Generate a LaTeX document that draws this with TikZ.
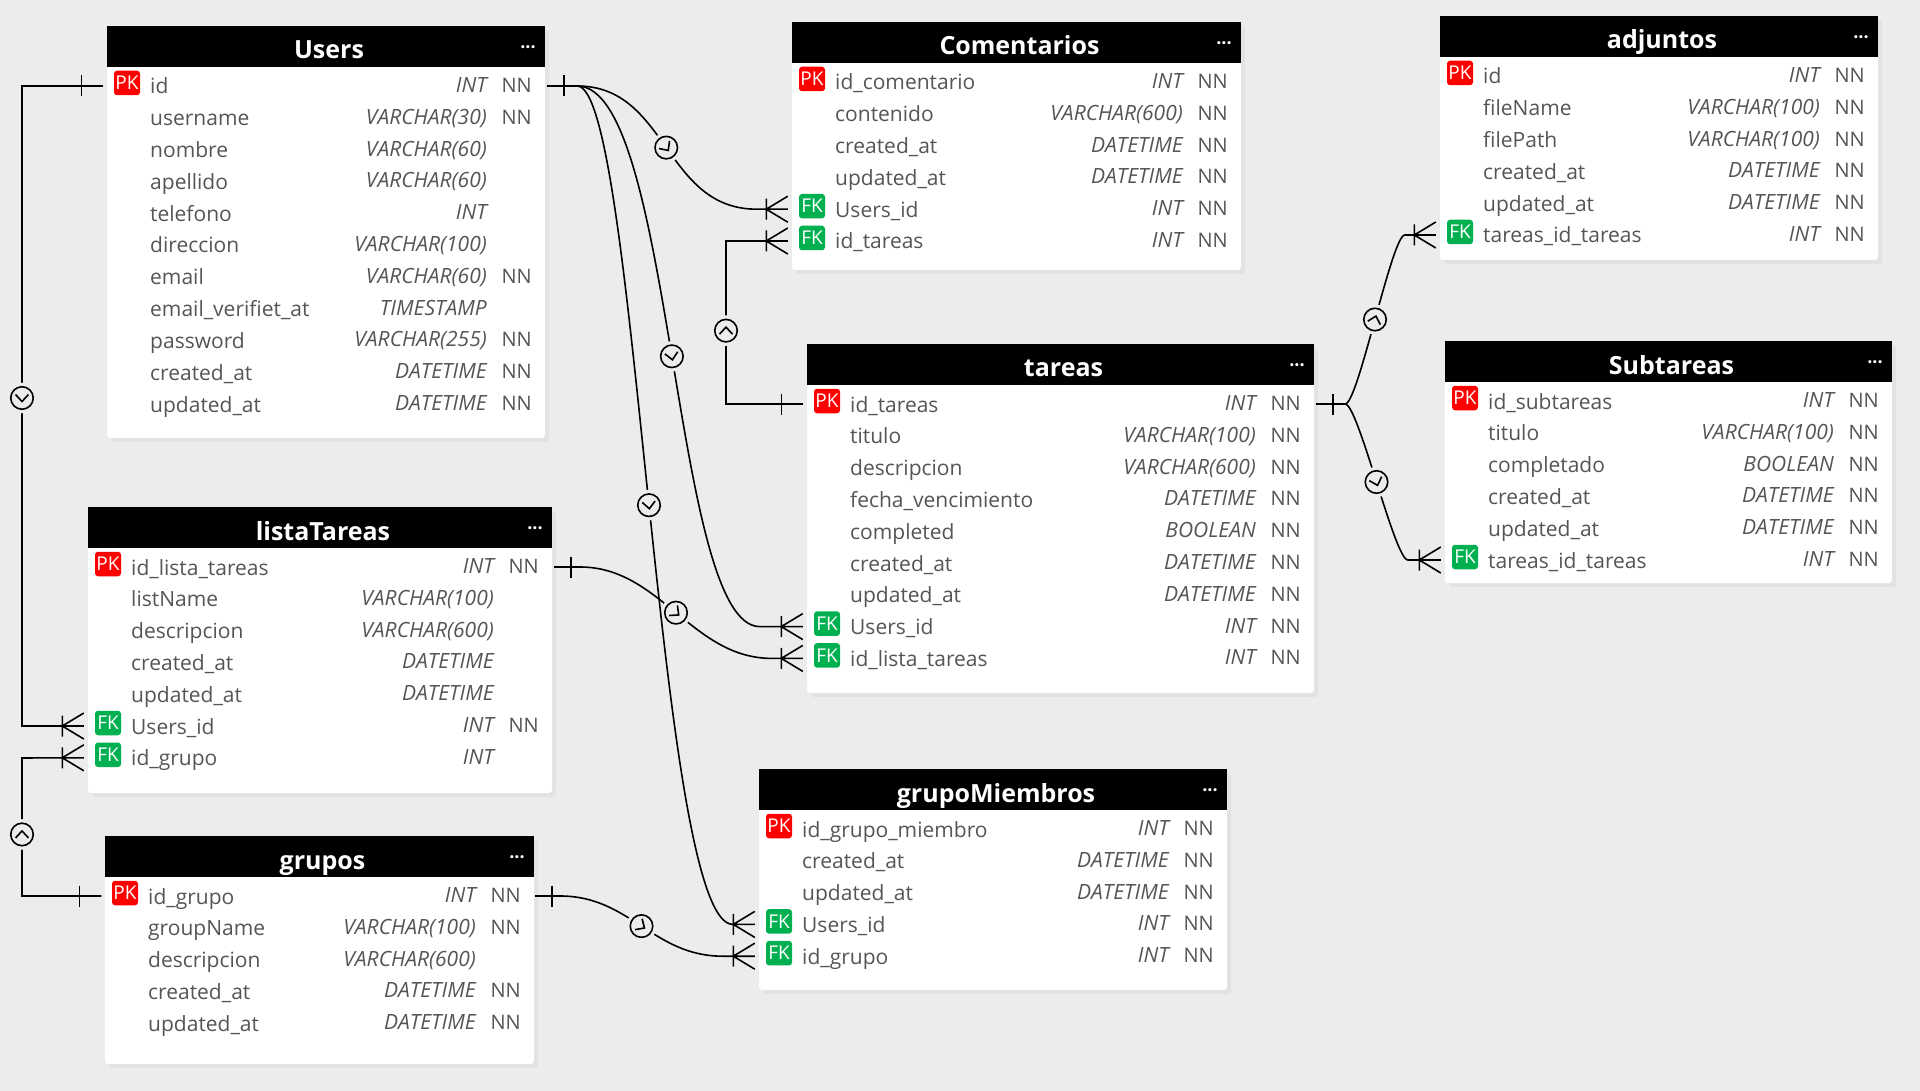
\documentclass[tikz,border=0pt]{standalone}
\usepackage{fontspec}
\setmainfont{Open Sans}
\usepackage{xcolor}
\usetikzlibrary{arrows.meta,positioning,calc,shadows}
\definecolor{pagebg}{HTML}{ECECEC}
\definecolor{pkred}{HTML}{FF0000}
\definecolor{fkgreen}{HTML}{00B050}
\definecolor{coltext}{HTML}{555555}
\tikzset{
  tablebody/.style={fill=white, rounded corners=3pt, inner sep=0pt, drop shadow={shadow xshift=4pt, shadow yshift=-4pt, fill=black, opacity=.04}},
  tablehead/.style={fill=black, inner sep=0pt, minimum height=41pt},
  tabletitle/.style={anchor=base, text=white, font=\fontsize{25}{25}\selectfont\bfseries, inner sep=0pt},
  tabledots/.style={text=white, font=\fontsize{18}{18}\selectfont\bfseries, inner sep=0pt},
  rowbox/.style={inner sep=0pt, minimum height=31.8pt},
  namecol/.style={anchor=base west, text=coltext, font=\fontsize{21}{21}\selectfont, inner sep=0pt},
  typecol/.style={anchor=base east, text=coltext, font=\fontsize{21}{21}\selectfont\itshape, inner sep=0pt},
  nullcol/.style={anchor=base east, text=coltext, font=\fontsize{20}{20}\selectfont, inner sep=0pt},
  keybadge/.style={text=white, rounded corners=3pt, inner sep=0pt, minimum width=26pt, minimum height=24.5pt, font=\fontsize{19}{19}\selectfont},
  keyPK/.style={keybadge, fill=pkred},
  keyFK/.style={keybadge, fill=fkgreen},
  relline/.style={draw=black, line width=1.6pt},
  relcircle/.style={circle, draw=black, line width=1.6pt, fill=pagebg, minimum size=22.5pt, inner sep=0pt, preaction={draw=pagebg, line width=8pt}},
  onebar/.pic={\draw[relline] (0,-10.5) -- (0,10.5);},
  crowfoot/.pic={\draw[relline] (0,-10.5) -- (0,10.5) (21.5,-13) -- (0,0) -- (21.5,13) (0,0) -- (21.5,0);},
  relmark/.pic={\node[relcircle] (-c) {}; \draw[relline] (-3.5,-6.5) -- (3.5,0) -- (-3.5,6.5);},
  midmark/.style={pos=#1, sloped, allow upside down},
  midmark/.default=0.5,
}
\def\nokey{-}
% id, title, left, top, right, bottom, rows
\newcommand{\erdtable}[7]{
  \pgfmathsetmacro{\tabw}{#5-#3}
  \pgfmathsetmacro{\tabh}{#6-#4}
  \pgfmathsetmacro{\tabx}{(#3+#5)/2}
  \pgfmathsetmacro{\taby}{(#4+#6)/2}
  \node[tablebody, minimum width=\tabw pt, minimum height=\tabh pt] (#1) at (\tabx,\taby) {};
  \node[tablehead, minimum width=\tabw pt] (#1-head) at (\tabx,#4+20.5) {};
  \node[tabletitle] (#1-title) at (\tabx+3,#4+33) {#2};
  \node[tabledots] (#1-dots) at (#5-17,#4+24) {···};
  \foreach \colkey/\colname/\coltype/\colnull [count=\i] in {#7} {
    \pgfmathsetmacro{\rowy}{#4+60+31.8*(\i-1)}
    \node[rowbox, minimum width=\tabw pt] (#1-\i) at (\tabx,\rowy) {};
    \ifx\colkey\nokey\else
      \node[key\colkey] (#1-\i-key) at (#3+20,\rowy-3) {\colkey};
    \fi
    \node[namecol] (#1-\i-name) at (#3+43,\rowy+8) {\colname};
    \node[typecol] (#1-\i-type) at (#5-58,\rowy+6.5) {\coltype};
    \ifx\colnull\nokey\else
      \node[nullcol] (#1-\i-null) at (#5-13,\rowy+6.5) {\colnull};
    \fi
  }
}

\begin{document}
\begin{tikzpicture}[x=1pt, y=-1pt]
  \path[use as bounding box, fill=pagebg] (0,0) rectangle (1920,1091);

  \erdtable{users}{Users}{107}{26}{545}{438}{
    PK/id/INT/NN,
    -/username/VARCHAR(30)/NN,
    -/nombre/VARCHAR(60)/-,
    -/apellido/VARCHAR(60)/-,
    -/telefono/INT/-,
    -/direccion/VARCHAR(100)/-,
    -/email/VARCHAR(60)/NN,
    -/email\_verifiet\_at/TIMESTAMP/-,
    -/password/VARCHAR(255)/NN,
    -/created\_at/DATETIME/NN,
    -/updated\_at/DATETIME/NN}
  \erdtable{comentarios}{Comentarios}{792}{22}{1241}{270}{
    PK/id\_comentario/INT/NN,
    -/contenido/VARCHAR(600)/NN,
    -/created\_at/DATETIME/NN,
    -/updated\_at/DATETIME/NN,
    FK/Users\_id/INT/NN,
    FK/id\_tareas/INT/NN}
  \erdtable{adjuntos}{adjuntos}{1440}{16}{1878}{260}{
    PK/id/INT/NN,
    -/fileName/VARCHAR(100)/NN,
    -/filePath/VARCHAR(100)/NN,
    -/created\_at/DATETIME/NN,
    -/updated\_at/DATETIME/NN,
    FK/tareas\_id\_tareas/INT/NN}
  \erdtable{tareas}{tareas}{807}{344}{1314}{693}{
    PK/id\_tareas/INT/NN,
    -/titulo/VARCHAR(100)/NN,
    -/descripcion/VARCHAR(600)/NN,
    -/fecha\_vencimiento/DATETIME/NN,
    -/completed/BOOLEAN/NN,
    -/created\_at/DATETIME/NN,
    -/updated\_at/DATETIME/NN,
    FK/Users\_id/INT/NN,
    FK/id\_lista\_tareas/INT/NN}
  \erdtable{subtareas}{Subtareas}{1445}{341}{1892}{583}{
    PK/id\_subtareas/INT/NN,
    -/titulo/VARCHAR(100)/NN,
    -/completado/BOOLEAN/NN,
    -/created\_at/DATETIME/NN,
    -/updated\_at/DATETIME/NN,
    FK/tareas\_id\_tareas/INT/NN}
  \erdtable{lista}{listaTareas}{88}{507}{552}{793}{
    PK/id\_lista\_tareas/INT/NN,
    -/listName/VARCHAR(100)/-,
    -/descripcion/VARCHAR(600)/-,
    -/created\_at/DATETIME/-,
    -/updated\_at/DATETIME/-,
    FK/Users\_id/INT/NN,
    FK/id\_grupo/INT/-}
  \erdtable{grupos}{grupos}{105}{836}{534}{1064}{
    PK/id\_grupo/INT/NN,
    -/groupName/VARCHAR(100)/NN,
    -/descripcion/VARCHAR(600)/-,
    -/created\_at/DATETIME/NN,
    -/updated\_at/DATETIME/NN}
  \erdtable{miembros}{grupoMiembros}{759}{769}{1227}{990}{
    PK/id\_grupo\_miembro/INT/NN,
    -/created\_at/DATETIME/NN,
    -/updated\_at/DATETIME/NN,
    FK/Users\_id/INT/NN,
    FK/id\_grupo/INT/NN}

  % left side elbows
  \coordinate (usersbus) at (22,86);
  \coordinate (listabus) at (22,726);
  \coordinate (grupobus) at (22,896);
  \coordinate (idgrupobus) at (22,758);
  \draw[relline] ([xshift=-3.5pt]users-1.west) -- (usersbus) -- (listabus) pic[midmark=0.4875]{relmark} -- ([xshift=-25.5pt]lista-6.west);
  \draw[relline] ([xshift=-3.5pt]grupos-1.west) -- (grupobus) -- (idgrupobus) pic[midmark=0.446]{relmark} -- ([xshift=-25.5pt]lista-7.west);
  \pic at ([xshift=-25.5pt]users-1.west) {onebar};
  \pic at ([xshift=-25.5pt]grupos-1.west) {onebar};
  \pic at ([xshift=-25.5pt]lista-6.west) {crowfoot};
  \pic at ([xshift=-25.5pt]lista-7.west) {crowfoot};

  % tareas up to comentarios
  \coordinate (tareasbus) at (726,404);
  \coordinate (comentbus) at (726,241);
  \draw[relline] ([xshift=-4pt]tareas-1.west) -- (tareasbus) -- (comentbus) pic[midmark=0.45]{relmark} -- ([xshift=-25.5pt]comentarios-6.west);
  \pic at ([xshift=-25.5pt]tareas-1.west) {onebar};
  \pic at ([xshift=-25.5pt]comentarios-6.west) {crowfoot};

  % curves out of Users, lista and grupos
  \draw[relline] ([xshift=2pt]users-1.east) -- ++(30,0) .. controls +(91,0) and +(-93,0) .. ([xshift=-35pt]comentarios-5.west) pic[midmark]{relmark} -- ([xshift=-25.5pt]comentarios-5.west);
  \draw[relline] ([xshift=2pt]users-1.east) -- ++(30,0) .. controls +(97,0) and +(-88,0) .. ([xshift=-47pt]tareas-8.west) pic[midmark]{relmark} -- ([xshift=-25.5pt]tareas-8.west);
  \draw[relline] ([xshift=2pt]lista-1.east) -- ++(26,0) .. controls +(80,0) and +(-80,0) .. ([xshift=-35pt]tareas-9.west) pic[midmark]{relmark} -- ([xshift=-25.5pt]tareas-9.west);
  \draw[relline] ([xshift=2pt]users-1.east) -- ++(30,0) .. controls +(60,0) and +(-76,0) .. ([xshift=-26pt]miembros-4.west) pic[midmark]{relmark} -- ([xshift=-25.5pt]miembros-4.west);
  \draw[relline] ([xshift=1pt]grupos-1.east) -- ++(25,0) .. controls +(70,0) and +(-70,0) .. ([xshift=-36pt]miembros-5.west) pic[midmark]{relmark} -- ([xshift=-25.5pt]miembros-5.west);
  \pic at ([xshift=19pt]users-1.east) {onebar};
  \pic at ([xshift=19pt]lista-1.east) {onebar};
  \pic at ([xshift=18pt]grupos-1.east) {onebar};
  \pic at ([xshift=-25.5pt]comentarios-5.west) {crowfoot};
  \pic at ([xshift=-25.5pt]tareas-8.west) {crowfoot};
  \pic at ([xshift=-25.5pt]tareas-9.west) {crowfoot};
  \pic at ([xshift=-25.5pt]miembros-4.west) {crowfoot};
  \pic at ([xshift=-25.5pt]miembros-5.west) {crowfoot};

  % tareas out to adjuntos and Subtareas
  \draw[relline] ([xshift=2pt]tareas-1.east) -- ++(29,0) .. controls +(13,0) and +(-13,0) .. ([xshift=-35pt]adjuntos-6.west) pic[midmark]{relmark} -- ([xshift=-25.5pt]adjuntos-6.west);
  \draw[relline] ([xshift=2pt]tareas-1.east) -- ++(29,0) .. controls +(13,0) and +(-13,0) .. ([xshift=-37pt]subtareas-6.west) pic[midmark]{relmark} -- ([xshift=-25.5pt]subtareas-6.west);
  \pic at ([xshift=19pt]tareas-1.east) {onebar};
  \pic at ([xshift=-25.5pt]adjuntos-6.west) {crowfoot};
  \pic at ([xshift=-25.5pt]subtareas-6.west) {crowfoot};
\end{tikzpicture}
\end{document}
